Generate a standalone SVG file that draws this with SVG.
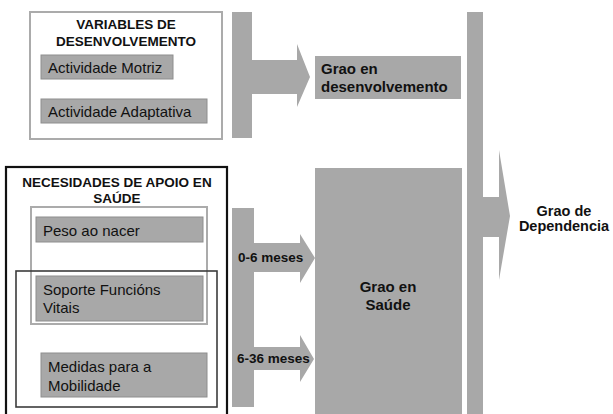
<svg xmlns="http://www.w3.org/2000/svg" width="613" height="414" viewBox="0 0 613 414">
<style>
text{font-family:"Liberation Sans",Arial,sans-serif;fill:#111}
.t{font-size:13.5px;font-weight:bold;text-anchor:middle}
.n{font-size:15px}
.b{font-size:15px;font-weight:bold}
.box{fill:#a8a8a8;stroke:#8e8e8e;stroke-width:1}
.frameL{fill:none;stroke:#ababab;stroke-width:2}
.frameK{fill:none;stroke:#111;stroke-width:2.2}
.frameD{fill:none;stroke:#3c3c3c;stroke-width:1.6}
.arr{fill:#a8a8a8;stroke:none}
</style>
<rect width="613" height="414" fill="#fff"/>
<g id="connectors">
<path class="arr" d="M232,12 H252 V60 H297 V44 L310,77 L297,107 V94 H252 V138 H232 Z"/>
<path class="arr" d="M232,208 H254 V243 H300 V234 L315,258 L300,283 V272 H254 V347 H300 V335 L314,359 L300,382 V370 H254 V407 H232 Z"/>
<path class="arr" d="M467,12 H483 V197 H499 V150 L510,216 L499,280 V237 H483 V414 H467 Z"/>
</g>
<g id="variables-desenvolvemento">
<rect class="frameL" x="30" y="12" width="192" height="127"/>
<text class="t" x="126" y="29">VARIABLES DE</text>
<text class="t" x="126" y="46">DESENVOLVEMENTO</text>
</g>
<g id="actividade-motriz">
<rect class="box" x="41" y="55" width="132" height="24"/>
<text class="n" x="48" y="73">Actividade Motriz</text>
</g>
<g id="actividade-adaptativa">
<rect class="box" x="41" y="99" width="166" height="24"/>
<text class="n" x="48" y="117">Actividade Adaptativa</text>
</g>
<g id="grao-desenvolvemento">
<rect class="arr" x="315" y="56" width="146" height="43"/>
<text class="b" x="321" y="74">Grao en</text>
<text class="b" x="321" y="92">desenvolvemento</text>
</g>
<g id="necesidades-apoio">
<rect class="frameK" x="6" y="167" width="221" height="260"/>
<text class="t" x="117" y="187">NECESIDADES DE APOIO EN</text>
<text class="t" x="117" y="203">SAÚDE</text>
</g>
<g id="grupo-0-6">
<rect class="frameL" x="31" y="207" width="176" height="117"/>
</g>
<g id="grupo-6-36">
<rect class="frameD" x="16" y="271" width="201" height="136"/>
</g>
<g id="peso-ao-nacer">
<rect class="box" x="36" y="217" width="167" height="25"/>
<text class="n" x="43" y="236">Peso ao nacer</text>
</g>
<g id="soporte-funcions">
<rect class="box" x="36" y="276" width="167" height="45"/>
<text class="n" x="43" y="295">Soporte Funcións</text>
<text class="n" x="43" y="313">Vitais</text>
</g>
<g id="medidas-mobilidade">
<rect class="box" x="41" y="353" width="166" height="44"/>
<text class="n" x="48" y="372">Medidas para a</text>
<text class="n" x="48" y="391">Mobilidade</text>
</g>
<g id="labels">
<text class="t" x="238" y="262" style="text-anchor:start">0-6 meses</text>
<text class="t" x="237" y="363" style="text-anchor:start">6-36 meses</text>
</g>
<g id="grao-saude">
<rect class="arr" x="315" y="168" width="147" height="250"/>
<text class="b" x="388" y="292" text-anchor="middle">Grao en</text>
<text class="b" x="388" y="310" text-anchor="middle">Saúde</text>
</g>
<g id="grao-dependencia">
<text class="b" x="564" y="216" text-anchor="middle" style="font-size:14.5px">Grao de</text>
<text class="b" x="564" y="231" text-anchor="middle" style="font-size:14.5px">Dependencia</text>
</g>
</svg>
